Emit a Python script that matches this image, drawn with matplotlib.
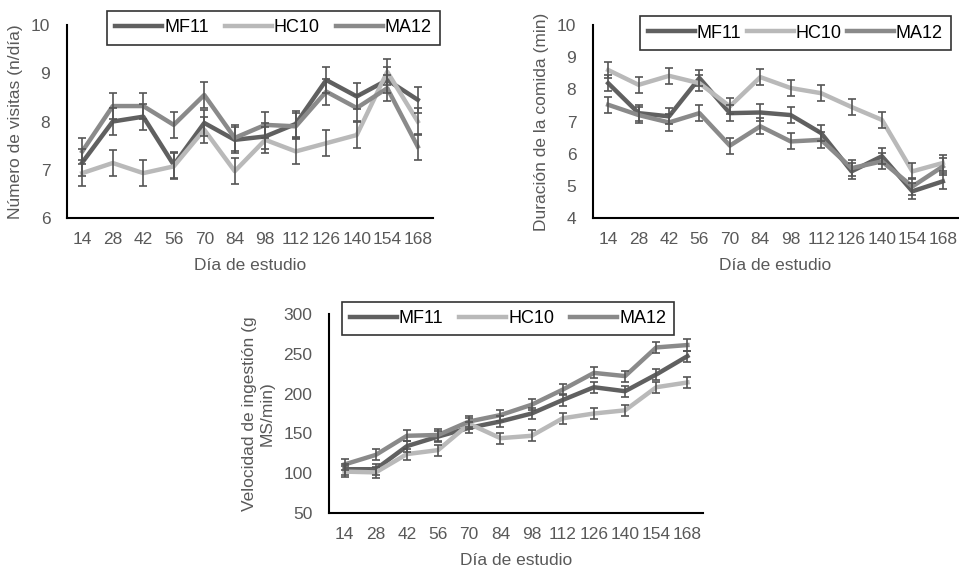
import matplotlib.pyplot as plt
import numpy as np

# ── Data ──────────────────────────────────────────────────────────────────────
days = ["14", "28", "42", "56", "70", "84", "98", "112", "126", "140", "154", "168"]
series = ["MF11", "HC10", "MA12"]

visits_mf11 = [7.15, 8.00, 8.10, 7.10, 7.97, 7.62, 7.69, 7.95, 8.86, 8.52, 8.86, 8.45]
visits_hc10 = [6.93, 7.14, 6.93, 7.07, 7.83, 6.97, 7.62, 7.38, 7.55, 7.72, 9.03, 8.00]
visits_ma12 = [7.38, 8.32, 8.32, 7.93, 8.55, 7.66, 7.93, 7.90, 8.62, 8.28, 8.69, 7.48]
visits_err = 0.27

meal_mf11 = [8.19, 7.26, 7.16, 8.35, 7.26, 7.28, 7.20, 6.64, 5.45, 5.92, 4.83, 5.14]
meal_hc10 = [8.60, 8.14, 8.42, 8.19, 7.47, 8.38, 8.04, 7.88, 7.45, 7.05, 5.45, 5.71]
meal_ma12 = [7.52, 7.20, 6.97, 7.26, 6.25, 6.85, 6.38, 6.43, 5.55, 5.76, 4.98, 5.60]
meal_err = 0.25

rate_mf11 = [105, 105, 134, 146, 157, 165, 175, 192, 208, 203, 224, 247]
rate_hc10 = [102, 101, 124, 129, 162, 144, 147, 169, 175, 179, 208, 214]
rate_ma12 = [111, 123, 147, 148, 165, 173, 186, 205, 226, 222, 258, 261]
rate_err = 7

# ── Styling ───────────────────────────────────────────────────────────────────
plt.rcParams.update({
    "font.family": ["Liberation Sans", "DejaVu Sans"],
    "font.size": 12.5,
    "text.color": "#595959",
    "axes.labelcolor": "#595959",
    "xtick.color": "#595959",
    "ytick.color": "#595959",
})
COLORS = {"MF11": "#606060", "HC10": "#b9b9b9", "MA12": "#8a8a8a"}
ERR_C = "#555555"

W, H = 959, 568
fig = plt.figure(figsize=(W / 100, H / 100), dpi=100)


def px_axes(x0, y0, x1, y1):
    return fig.add_axes([x0 / W, 1 - y1 / H, (x1 - x0) / W, (y1 - y0) / H])


def panel(ax, data, err, ylim, yticks, ylabel, legend_box, colsp=0.9):
    x = np.arange(len(days))
    handles = []
    for name, vals in zip(series, data):
        h, = ax.plot(x, vals, color=COLORS[name], lw=3.2, zorder=3, label=name)
        ax.errorbar(x, vals, yerr=err, fmt="none", ecolor=ERR_C, elinewidth=1.2,
                    capsize=3, capthick=1.2, zorder=4)
        handles.append(h)
    ax.set_xlim(-0.5, len(days) - 0.5)
    ax.set_ylim(*ylim)
    ax.set_yticks(yticks)
    ax.set_xticks(x, days)
    ax.tick_params(axis="x", length=0, pad=10)
    ax.tick_params(axis="y", length=0, pad=12)
    ax.spines[["top", "right"]].set_visible(False)
    ax.spines[["left", "bottom"]].set_linewidth(1.5)
    ax.spines[["left", "bottom"]].set_color("black")
    ax.set_xlabel("Día de estudio", labelpad=8)
    ax.set_ylabel(ylabel, labelpad=6)
    x0, y0, x1, y1 = legend_box
    leg = fig.legend(handles=handles, loc="center",
                     bbox_to_anchor=((x0 + x1) / 2 / W, 1 - (y0 + y1) / 2 / H),
                     ncol=3, frameon=True, fancybox=False, edgecolor="black",
                     handlelength=2.6, handletextpad=0.1, columnspacing=colsp,
                     borderpad=0.45, borderaxespad=0, fontsize=13)
    leg.get_frame().set_linewidth(1.2)
    for t in leg.get_texts():
        t.set_color("black")


ax1 = px_axes(67, 25, 433, 218)
panel(ax1, [visits_mf11, visits_hc10, visits_ma12], visits_err, (6, 10),
      [6, 7, 8, 9, 10], "Número de visitas (n/día)", (107, 10, 440, 46))

ax2 = px_axes(593, 25, 958, 218)
panel(ax2, [meal_mf11, meal_hc10, meal_ma12], meal_err, (4, 10),
      [4, 5, 6, 7, 8, 9, 10], "Duración de la comida (min)", (639, 16, 952, 50),
      colsp=0.3)

ax3 = px_axes(329, 314, 703, 513)
panel(ax3, [rate_mf11, rate_hc10, rate_ma12], rate_err, (50, 300),
      [50, 100, 150, 200, 250, 300], "Velocidad de ingestión (g\nMS/min)",
      (342, 302, 674, 335))

fig.savefig("out.png", dpi=100)
